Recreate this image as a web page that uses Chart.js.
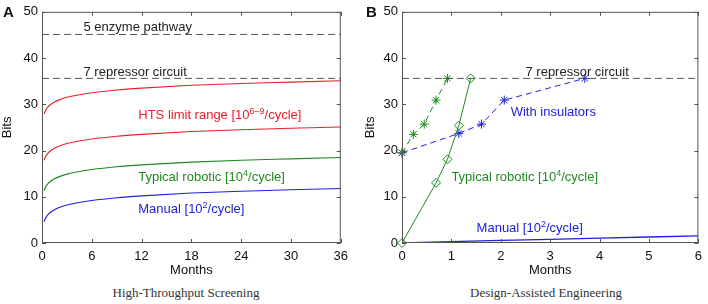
<!DOCTYPE html>
<html>
<head>
<meta charset="utf-8">
<script src="https://cdn.jsdelivr.net/npm/chart.js@4.4.1/dist/chart.umd.min.js"></script>
<style>
  body { margin: 0; background: #fff; width: 708px; height: 304px; position: relative; overflow: hidden; font-family: "Liberation Sans", Arial, sans-serif; }
  .panel { position: absolute; top: 0; width: 354px; height: 280px; }
  .caption { position: absolute; top: 285px; font-family: "Liberation Serif", "Times New Roman", serif; font-size: 13px; color: #333; transform: translateX(-50%); white-space: nowrap; }
  .tag { position: absolute; top: 3px; font-weight: bold; font-size: 15px; color: #111; }
</style>
</head>
<body>
<div class="panel" style="left:0"><canvas id="chartA" width="354" height="280"></canvas></div>
<div class="panel" style="left:354px"><canvas id="chartB" width="354" height="280"></canvas></div>
<div class="tag" style="left:3px">A</div>
<div class="tag" style="left:366px">B</div>
<div class="caption" style="left:186px">High-Throughput Screening</div>
<div class="caption" style="left:546px">Design-Assisted Engineering</div>
<script>
// Panel A - high-throughput screening
const monthsA   = [0.25, 0.35, 0.5, 0.75, 1, 1.5, 2, 3, 4, 6, 9, 12, 18, 24, 30, 36];
const htsHigh   = [27.9, 28.4, 28.9, 29.5, 29.9, 30.5, 30.9, 31.5, 31.9, 32.5, 33.1, 33.5, 34.1, 34.5, 34.8, 35.1];
const htsLow    = [17.9, 18.4, 18.9, 19.5, 19.9, 20.5, 20.9, 21.5, 21.9, 22.5, 23.1, 23.5, 24.1, 24.5, 24.8, 25.1];
const roboticA  = [11.3, 11.8, 12.3, 12.9, 13.3, 13.9, 14.3, 14.9, 15.3, 15.9, 16.5, 16.9, 17.5, 17.9, 18.2, 18.5];
const manualA   = [4.6, 5.1, 5.6, 6.2, 6.6, 7.2, 7.6, 8.2, 8.6, 9.2, 9.8, 10.2, 10.8, 11.2, 11.5, 11.8];
const enzymeBits = 45.1;
const repressorBits = 35.6;
const xTicksA = [0, 6, 12, 18, 24, 30, 36];

// Panel B - design-assisted engineering
const monthsManualB   = [0, 1, 2, 3, 4, 5, 6];
const manualB         = [0, 0.3, 0.55, 0.8, 1.05, 1.3, 1.55];
const roboticMonthsB  = [0, 0.69, 0.92, 1.15, 1.39];
const roboticB        = [0, 13.0, 18.1, 25.4, 35.6];
const designMonths    = [0, 0.23, 0.45, 0.69, 0.92];
const designBits      = [19.5, 23.5, 25.7, 30.9, 35.6];
const insulatorMonths = [0, 1.15, 1.61, 2.07, 3.70];
const insulatorBits   = [19.5, 23.7, 25.7, 30.9, 35.6];
const xTicksB = [0, 1, 2, 3, 4, 5, 6];
const yTicks = [0, 10, 20, 30, 40, 50];

const RED = '#e8202a', GREEN = '#1e8a1e', BLUE = '#2020dd', DASH = '#555';

const notesA = [
  { x: 5.0, y: 45.8, color: '#222', parts: [['5 enzyme pathway', 0]] },
  { x: 5.0, y: 36.2, color: '#222', parts: [['7 repressor circuit', 0]] },
  { x: 11.6, y: 26.9, color: RED, parts: [['HTS limit range [10', 0], ['6\u20139', 1], ['/cycle]', 0]] },
  { x: 11.6, y: 13.4, color: GREEN, parts: [['Typical robotic [10', 0], ['4', 1], ['/cycle]', 0]] },
  { x: 11.6, y: 6.5, color: BLUE, parts: [['Manual [10', 0], ['2', 1], ['/cycle]', 0]] }
];
const notesB = [
  { x: 2.5, y: 36.2, color: '#222', parts: [['7 repressor circuit', 0]] },
  { x: 2.2, y: 27.4, color: BLUE, parts: [['With insulators', 0]] },
  { x: 1.0, y: 13.4, color: GREEN, parts: [['Typical robotic [10', 0], ['4', 1], ['/cycle]', 0]] },
  { x: 1.51, y: 2.4, color: BLUE, parts: [['Manual [10', 0], ['2', 1], ['/cycle]', 0]] }
];

const pts = (xs, ys) => xs.map((x, i) => ({ x: x, y: ys[i] }));

// box frame with inward tick marks, matlab style
const framePlugin = {
  id: 'frame',
  afterDatasetsDraw(chart) {
    const { ctx, chartArea: a, scales } = chart;
    ctx.save();
    ctx.strokeStyle = '#555';
    ctx.lineWidth = 1;
    ctx.strokeRect(a.left + 0.5, a.top + 0.5, a.right - a.left - 1, a.bottom - a.top - 1);
    ctx.beginPath();
    scales.x.ticks.forEach(t => {
      const px = Math.round(scales.x.getPixelForValue(t.value)) + 0.5;
      ctx.moveTo(px, a.bottom); ctx.lineTo(px, a.bottom - 4);
      ctx.moveTo(px, a.top); ctx.lineTo(px, a.top + 4);
    });
    scales.y.ticks.forEach(t => {
      const py = Math.round(scales.y.getPixelForValue(t.value)) + 0.5;
      ctx.moveTo(a.left, py); ctx.lineTo(a.left + 4, py);
      ctx.moveTo(a.right, py); ctx.lineTo(a.right - 4, py);
    });
    ctx.stroke();
    ctx.restore();
  }
};

const notesPlugin = {
  id: 'notes',
  afterDraw(chart, args, opts) {
    const { ctx, scales } = chart;
    ctx.save();
    ctx.textBaseline = 'alphabetic';
    ctx.textAlign = 'left';
    opts.items.forEach(n => {
      let px = scales.x.getPixelForValue(n.x);
      const py = scales.y.getPixelForValue(n.y);
      ctx.fillStyle = n.color;
      n.parts.forEach(([s, sup]) => {
        ctx.font = sup ? '9px "Liberation Sans", Arial, sans-serif' : '13px "Liberation Sans", Arial, sans-serif';
        ctx.fillText(s, px, sup ? py - 5 : py);
        px += ctx.measureText(s).width;
      });
    });
    ctx.restore();
  }
};

function makeScales(xMax, xTicks, yWidth, titlePad) {
  return {
    x: {
      type: 'linear', min: 0, max: xMax,
      grid: { display: false, drawTicks: false },
      border: { display: false },
      afterBuildTicks: s => { s.ticks = xTicks.map(v => ({ value: v })); },
      afterFit: s => { s.height = 37; },
      ticks: { padding: 6, color: '#111', font: { size: 13 }, maxRotation: 0 },
      title: { display: true, text: 'Months', color: '#111', font: { size: 13 }, padding: { top: 0, bottom: 2 } }
    },
    y: {
      min: 0, max: 50,
      grid: { display: false, drawTicks: false },
      border: { display: false },
      afterBuildTicks: s => { s.ticks = yTicks.map(v => ({ value: v })); },
      afterFit: s => { s.width = yWidth; },
      ticks: { padding: 4, color: '#111', font: { size: 13 } },
      title: { display: true, text: 'Bits', color: '#111', font: { size: 13 }, padding: { top: titlePad, bottom: 0 } }
    }
  };
}

const baseOpts = {
  responsive: false,
  animation: false,
  devicePixelRatio: 1,
  plugins: { legend: { display: false }, tooltip: { enabled: false } }
};

const curve = (ys, color) => ({
  data: pts(monthsA, ys), borderColor: color, borderWidth: 1.1,
  pointRadius: 0, cubicInterpolationMode: 'monotone', fill: false
});
const hline = (y, xMax) => ({
  data: [{ x: 0, y: y }, { x: xMax, y: y }], borderColor: DASH, borderWidth: 1,
  borderDash: [7, 4], pointRadius: 0, fill: false
});

new Chart(document.getElementById('chartA'), {
  type: 'line',
  data: {
    datasets: [
      hline(enzymeBits, 36),
      hline(repressorBits, 36),
      curve(htsHigh, RED),
      curve(htsLow, RED),
      curve(roboticA, GREEN),
      curve(manualA, BLUE)
    ]
  },
  options: Object.assign({}, baseOpts, {
    layout: { padding: { top: 11, right: 13, left: 0, bottom: 0 } },
    scales: makeScales(36, xTicksA, 42, 0),
    plugins: Object.assign({}, baseOpts.plugins, { notes: { items: notesA } })
  }),
  plugins: [framePlugin, notesPlugin]
});

new Chart(document.getElementById('chartB'), {
  type: 'line',
  data: {
    datasets: [
      hline(repressorBits, 6),
      { data: pts(monthsManualB, manualB), borderColor: BLUE, borderWidth: 1.3, pointRadius: 0, fill: false },
      { data: pts(roboticMonthsB, roboticB), borderColor: GREEN, borderWidth: 1, pointStyle: 'rectRot',
        pointRadius: 4.5, pointBorderColor: GREEN, pointBackgroundColor: 'rgba(0,0,0,0)', pointBorderWidth: 1, clip: false },
      { data: pts(designMonths, designBits), borderColor: GREEN, borderWidth: 1, borderDash: [6, 4], pointStyle: 'star',
        pointRadius: 4.5, pointBorderColor: GREEN, pointBorderWidth: 1, clip: false },
      { data: pts(insulatorMonths, insulatorBits), borderColor: BLUE, borderWidth: 1, borderDash: [6, 4], pointStyle: 'star',
        pointRadius: 4.5, pointBorderColor: BLUE, pointBorderWidth: 1, clip: false }
    ]
  },
  options: Object.assign({}, baseOpts, {
    layout: { padding: { top: 11, right: 7, left: 0, bottom: 0 } },
    scales: makeScales(6, xTicksB, 48, 9),
    plugins: Object.assign({}, baseOpts.plugins, { notes: { items: notesB } })
  }),
  plugins: [framePlugin, notesPlugin]
});
</script>
</body>
</html>
